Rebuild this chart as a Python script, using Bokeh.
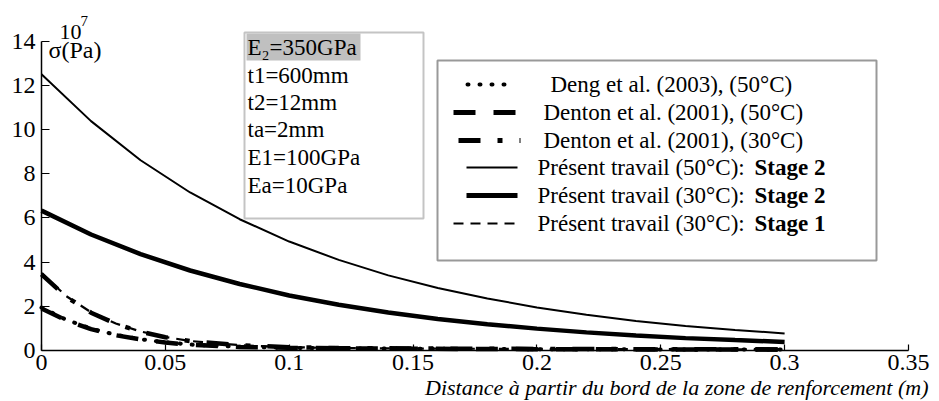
from bokeh.plotting import figure
from bokeh.models import Range1d, FixedTicker
from bokeh.core.properties import value
from bokeh.embed import file_html
from bokeh.resources import INLINE

# ---- data ----
x_main = [0.00, 0.02, 0.04, 0.06, 0.08, 0.10, 0.12, 0.14, 0.16, 0.18, 0.20, 0.22, 0.24, 0.26, 0.28, 0.30]
present50_stage2 = [12.5, 10.38, 8.61, 7.15, 5.94, 4.93, 4.10, 3.40, 2.83, 2.35, 1.95, 1.62, 1.34, 1.11, 0.93, 0.77]
present30_stage2 = [6.33, 5.25, 4.36, 3.62, 3.01, 2.49, 2.07, 1.72, 1.43, 1.19, 0.99, 0.82, 0.68, 0.56, 0.47, 0.39]

x_low = [0.00, 0.01, 0.02, 0.03, 0.04, 0.05, 0.06, 0.08, 0.10, 0.12, 0.15, 0.20, 0.25, 0.30]
deng50 = [1.94, 1.39, 0.99, 0.71, 0.51, 0.37, 0.27, 0.17, 0.12, 0.10, 0.08, 0.06, 0.05, 0.05]
denton50 = [1.90, 1.36, 0.97, 0.69, 0.50, 0.36, 0.26, 0.16, 0.12, 0.10, 0.08, 0.06, 0.05, 0.04]
denton30 = [3.45, 2.43, 1.71, 1.21, 0.85, 0.60, 0.43, 0.24, 0.15, 0.11, 0.09, 0.07, 0.06, 0.05]
present30_stage1 = [3.50, 2.46, 1.73, 1.22, 0.86, 0.61, 0.43, 0.24, 0.15, 0.11, 0.09, 0.07, 0.06, 0.05]

x_ticks = [0, 0.05, 0.1, 0.15, 0.2, 0.25, 0.3, 0.35]
x_tick_labels = ["0", "0.05", "0.1", "0.15", "0.2", "0.25", "0.3", "0.35"]
y_ticks = [0, 2, 4, 6, 8, 10, 12, 14]

params = ["E\u2082=350GPa", "t1=600mm", "t2=12mm", "ta=2mm", "E1=100GPa", "Ea=10GPa"]
legend_plain = ["Deng et al. (2003), (50\u00b0C)", "Denton et al. (2001), (50\u00b0C)",
                "Denton et al. (2001), (30\u00b0C)", "Pr\u00e9sent travail (50\u00b0C):",
                "Pr\u00e9sent travail (30\u00b0C):", "Pr\u00e9sent travail (30\u00b0C):"]
legend_bold = ["Stage 2", "Stage 2", "Stage 1"]
x_title = "Distance \u00e0 partir du bord de la zone de renforcement (m)"

FONT = "Liberation Serif"
W, H = 939, 401
XS = 2477.0                  # px per x unit
YS = 22.1                    # px per y unit
X0 = 41                      # pixel column of x = 0
Y0 = 350                     # pixel row of y = 0


def dx(px):
    return (px - X0) / XS


def dy(py):
    return (Y0 - py) / YS


p = figure(width=W, height=H, output_backend="svg", toolbar_location=None,
           x_range=Range1d(dx(0), dx(W)), y_range=Range1d(dy(H), dy(0)),
           min_border_left=0, min_border_right=0, min_border_top=0, min_border_bottom=0)
p.outline_line_color = None
p.background_fill_color = "white"
p.border_fill_color = "white"
p.xgrid.visible = False
p.ygrid.visible = False

for ax in (p.xaxis[0], p.yaxis[0]):
    ax.fixed_location = 0
    ax.axis_line_color = "black"
    ax.axis_line_width = 1.5
    ax.major_tick_line_color = "black"
    ax.major_tick_line_width = 1.2
    ax.major_tick_out = 0
    ax.minor_tick_line_color = None
    ax.major_label_text_font = FONT
    ax.major_label_text_font_size = "24px"
    ax.major_label_text_color = "black"

xa = p.xaxis[0]
xa.ticker = FixedTicker(ticks=x_ticks)
xa.major_label_overrides = {t: s for t, s in zip(x_ticks, x_tick_labels)}
xa.bounds = (0, 0.35)
xa.major_tick_in = 6
xa.major_label_standoff = 4

ya = p.yaxis[0]
ya.ticker = FixedTicker(ticks=y_ticks)
ya.bounds = (0, 14)
ya.major_tick_in = 8
ya.major_label_standoff = 6

# ---- curves ----
p.line(x_main, present50_stage2, line_color="black", line_width=2)
p.line(x_main, present30_stage2, line_color="black", line_width=4.5)
p.line(x_low, present30_stage1, line_color="black", line_width=2.2, line_dash="10 7")
p.line(x_low, denton30, line_color="black", line_width=4.5, line_dash="22 17 5 17")
p.line(x_low, denton50, line_color="black", line_width=4.5, line_dash="22 18")
p.line(x_low, deng50, line_color="black", line_width=4, line_dash="1 11", line_cap="round")

# ---- parameter box ----
p.quad(left=dx(244), right=dx(423), top=dy(32), bottom=dy(218),
       fill_color="white", line_color="#c4c4c4", line_width=2)
p.quad(left=dx(246), right=dx(360), top=dy(33), bottom=dy(60),
       fill_color="#c0c0c0", line_color=None)
param_y = [47, 75, 102, 129, 157, 185]
p.text(x=[dx(247)] * len(params), y=[dy(v) for v in param_y], text=params,
       text_font=value(FONT), text_font_size="23px", text_color="black",
       text_align="left", text_baseline="middle")

# ---- legend box ----
p.quad(left=dx(437), right=dx(876), top=dy(60), bottom=dy(260),
       fill_color="white", line_color="#999999", line_width=2)
leg_y = [84, 112, 140, 167, 195, 223]
styles = [dict(line_width=4, line_dash="1 11", line_cap="round", x0=467, x1=515),
          dict(line_width=5, line_dash="22 18", x0=453, x1=519),
          dict(line_width=5, line_dash="22 17 5 17", x0=458, x1=520),
          dict(line_width=2, x0=466, x1=517),
          dict(line_width=5, x0=466, x1=517),
          dict(line_width=2.2, line_dash="10 7", x0=453, x1=520)]
for yy, st in zip(leg_y, styles):
    st = dict(st)
    x0, x1 = st.pop("x0"), st.pop("x1")
    p.line([dx(x0), dx(x1)], [dy(yy), dy(yy)], line_color="black", **st)

leg_x = [550, 543, 543, 537, 537, 537]
p.text(x=[dx(v) for v in leg_x], y=[dy(v) for v in leg_y], text=legend_plain,
       text_font=value(FONT), text_font_size="23px", text_color="black",
       text_align="left", text_baseline="middle")
p.text(x=[dx(754)] * 3, y=[dy(v) for v in leg_y[3:]], text=legend_bold,
       text_font=value(FONT), text_font_size="23px", text_font_style="bold",
       text_color="black", text_align="left", text_baseline="middle")

# ---- axis titles ----
p.text(x=[dx(59)], y=[dy(31)], text=["10"], text_font=value(FONT), text_font_size="22px",
       text_color="black", text_align="left", text_baseline="alphabetic")
p.text(x=[dx(80)], y=[dy(20)], text=["7"], text_font=value(FONT), text_font_size="15px",
       text_color="black", text_align="left", text_baseline="alphabetic")
p.text(x=[dx(48)], y=[dy(49)], text=["\u03c3(Pa)"], text_font=value(FONT), text_font_size="24px",
       text_color="black", text_align="left", text_baseline="middle")
p.text(x=[dx(928)], y=[dy(387)], text=[x_title], text_font=value(FONT), text_font_size="22px",
       text_font_style="italic", text_color="black", text_align="right",
       text_baseline="alphabetic")

open("out.html", "w").write(file_html(p, INLINE))
